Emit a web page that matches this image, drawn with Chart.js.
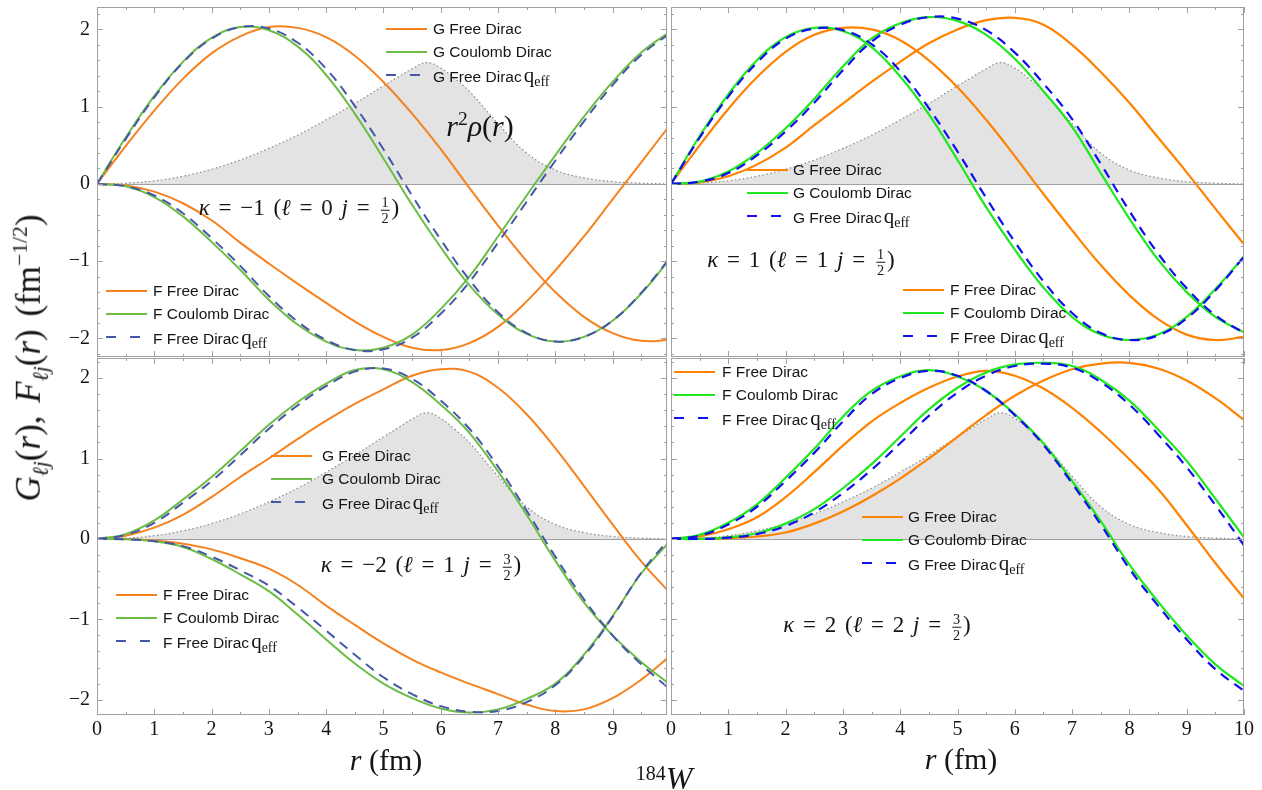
<!DOCTYPE html>
<html>
<head>
<meta charset="utf-8">
<script src="https://cdn.jsdelivr.net/npm/chart.js@4.4.0/dist/chart.umd.min.js"></script>
<style>
  html, body { margin: 0; padding: 0; background: #fff; }
  #wrap { position: relative; width: 1262px; height: 790px; overflow: hidden; background: #fff; }
  canvas { position: absolute; }
  .math { position: absolute; font-family: 'Liberation Serif', 'DejaVu Serif', serif; white-space: nowrap; color: #151515; transform: translate(-50%, -50%); line-height: 1; }
  .leg { position: absolute; font-family: 'Liberation Sans', Arial, sans-serif; font-size: 15.5px; white-space: nowrap; color: #151515; line-height: 20px; }
  .q { font-family: 'Liberation Serif', serif; font-size: 21px; margin-left: 2px; }
  .q sub { font-size: 14px; vertical-align: -0.25em; line-height: 0; }
  .frac { display: inline-flex; flex-direction: column; vertical-align: middle; font-size: 0.62em; line-height: 1; text-align: center; margin: 0 2px; }
  .frac span:first-child { border-bottom: 1px solid #151515; padding: 0 1px 1px; }
  .kap { word-spacing: 3px; }
</style>
</head>
<body>
<div id="wrap">
  <canvas id="cTL" width="668" height="357" style="left:0;top:0"></canvas>
  <canvas id="cTR" width="597" height="357" style="left:665px;top:0"></canvas>
  <canvas id="cBL" width="668" height="433" style="left:0;top:357px"></canvas>
  <canvas id="cBR" width="597" height="433" style="left:665px;top:357px"></canvas>
</div>
<script>
'use strict';

// radius grid (fm) shared by all curves
const rVals = [0, 0.5, 1, 1.5, 2, 2.5, 3, 3.5, 4, 4.5, 5, 5.5, 6, 6.5, 7, 7.5, 8, 8.5, 9, 9.5, 10];

// kappa = -1
const tlGFree = [0, 0.49, 0.95, 1.36, 1.69, 1.91, 2.03, 2.02, 1.90, 1.66, 1.32, 0.91, 0.45, -0.05, -0.54, -1.0, -1.40, -1.72, -1.93, -2.03, -2.02];
const tlGCoul = [0, 0.6, 1.14, 1.58, 1.89, 2.03, 1.99, 1.78, 1.41, 0.91, 0.33, -0.27, -0.82, -1.31, -1.69, -1.94, -2.04, -1.98, -1.77, -1.42, -0.97];
const tlGEff = [0, 0.58, 1.12, 1.57, 1.88, 2.03, 2.01, 1.83, 1.49, 1.01, 0.45, -0.15, -0.72, -1.24, -1.66, -1.93, -2.04, -1.98, -1.77, -1.41, -0.96];
const tlFFree = [0, -0.02, -0.1, -0.25, -0.47, -0.76, -1.03, -1.29, -1.54, -1.78, -1.98, -2.12, -2.15, -2.06, -1.85, -1.52, -1.12, -0.68, -0.2, 0.28, 0.76];
const tlFCoul = [0, -0.03, -0.17, -0.42, -0.75, -1.11, -1.5, -1.82, -2.04, -2.15, -2.12, -1.95, -1.62, -1.2, -0.68, -0.15, 0.37, 0.87, 1.32, 1.7, 1.97];
const tlFEff = [0, -0.03, -0.15, -0.38, -0.7, -1.06, -1.45, -1.78, -2.02, -2.15, -2.14, -1.99, -1.68, -1.27, -0.76, -0.23, 0.3, 0.81, 1.28, 1.67, 1.95];

// kappa = 1
const trGFree = [0, 0.02, 0.1, 0.25, 0.47, 0.76, 1.04, 1.32, 1.58, 1.82, 2.0, 2.12, 2.15, 2.06, 1.8, 1.45, 1.05, 0.6, 0.15, -0.32, -0.78];
const trGCoul = [0, 0.03, 0.16, 0.4, 0.72, 1.1, 1.52, 1.88, 2.08, 2.16, 2.11, 1.93, 1.62, 1.2, 0.74, 0.14, -0.45, -0.98, -1.4, -1.72, -1.92];
const trGEff = [0, 0.03, 0.14, 0.37, 0.68, 1.05, 1.47, 1.84, 2.06, 2.16, 2.14, 1.99, 1.7, 1.3, 0.84, 0.26, -0.35, -0.9, -1.35, -1.7, -1.93];
const trFFree = [0, 0.5, 0.97, 1.38, 1.71, 1.93, 2.02, 2.0, 1.86, 1.6, 1.25, 0.83, 0.36, -0.13, -0.6, -1.05, -1.44, -1.75, -1.95, -2.02, -1.98];
const trFCoul = [0, 0.62, 1.16, 1.6, 1.9, 2.02, 1.98, 1.77, 1.39, 0.9, 0.31, -0.3, -0.85, -1.34, -1.72, -1.95, -2.02, -1.95, -1.72, -1.36, -0.94];
const trFEff = [0, 0.6, 1.13, 1.57, 1.88, 2.01, 1.99, 1.81, 1.46, 0.98, 0.42, -0.18, -0.75, -1.26, -1.67, -1.93, -2.02, -1.96, -1.74, -1.38, -0.94];

// kappa = -2
const blGFree = [0, 0.04, 0.14, 0.3, 0.52, 0.77, 1.0, 1.24, 1.47, 1.68, 1.86, 2.03, 2.11, 2.08, 1.88, 1.55, 1.13, 0.66, 0.18, -0.28, -0.67];
const blGCoul = [0, 0.06, 0.23, 0.49, 0.77, 1.09, 1.42, 1.7, 1.93, 2.1, 2.11, 1.95, 1.67, 1.32, 0.84, 0.3, -0.27, -0.79, -1.2, -1.53, -1.81];
const blGEff = [0, 0.05, 0.2, 0.45, 0.72, 1.04, 1.37, 1.66, 1.9, 2.08, 2.12, 1.99, 1.72, 1.37, 0.9, 0.35, -0.22, -0.75, -1.2, -1.56, -1.87];
const blFFree = [0, 0, -0.02, -0.06, -0.13, -0.24, -0.37, -0.57, -0.83, -1.07, -1.3, -1.5, -1.66, -1.8, -1.93, -2.06, -2.14, -2.12, -1.98, -1.75, -1.46];
const blFCoul = [0, -0.005, -0.03, -0.1, -0.25, -0.44, -0.65, -0.94, -1.25, -1.55, -1.8, -1.98, -2.11, -2.16, -2.12, -1.99, -1.8, -1.44, -0.96, -0.43, -0.03];
const blFEff = [0, -0.005, -0.03, -0.09, -0.22, -0.39, -0.58, -0.85, -1.14, -1.44, -1.72, -1.93, -2.08, -2.15, -2.14, -2.03, -1.82, -1.46, -0.97, -0.42, 0.01];

// kappa = 2
const brGFree = [0, 0, 0.01, 0.03, 0.08, 0.19, 0.34, 0.53, 0.75, 1.0, 1.27, 1.54, 1.78, 1.97, 2.11, 2.18, 2.19, 2.12, 1.97, 1.75, 1.48];
const brGCoul = [0, 0, 0.02, 0.07, 0.19, 0.37, 0.63, 0.93, 1.27, 1.61, 1.88, 2.07, 2.17, 2.19, 2.15, 1.98, 1.72, 1.36, 0.97, 0.5, 0.02];
const brGEff = [0, 0, 0.015, 0.06, 0.16, 0.33, 0.57, 0.86, 1.19, 1.53, 1.82, 2.03, 2.15, 2.18, 2.13, 1.95, 1.67, 1.3, 0.89, 0.42, -0.08];
const brFFree = [0, 0.03, 0.12, 0.27, 0.52, 0.83, 1.16, 1.46, 1.69, 1.88, 2.02, 2.09, 2.03, 1.87, 1.63, 1.33, 0.99, 0.62, 0.17, -0.3, -0.74];
const brFCoul = [0, 0.05, 0.2, 0.43, 0.76, 1.12, 1.52, 1.84, 2.02, 2.1, 2.02, 1.84, 1.55, 1.19, 0.72, 0.22, -0.32, -0.78, -1.2, -1.56, -1.83];
const brFEff = [0, 0.04, 0.18, 0.4, 0.72, 1.07, 1.46, 1.8, 2.0, 2.09, 2.03, 1.84, 1.54, 1.17, 0.69, 0.18, -0.37, -0.83, -1.25, -1.62, -1.89];

// nuclear density r^2 rho(r), same in all panels
const rhoR = [0, 0.5, 1, 1.5, 2, 2.5, 3, 3.5, 4, 4.5, 5, 5.25, 5.5, 5.75, 6, 6.25, 6.5, 7, 7.5, 8, 8.5, 9, 9.5, 10];
const rhoVal = [0, 0.01, 0.04, 0.1, 0.19, 0.31, 0.46, 0.63, 0.83, 1.04, 1.27, 1.38, 1.49, 1.57, 1.5, 1.36, 1.2, 0.78, 0.4, 0.18, 0.08, 0.03, 0.01, 0];

const xTickVals = [0, 1, 2, 3, 4, 5, 6, 7, 8, 9, 10];
const yTickVals = [-2, -1, 0, 1, 2];

const leftCol = { free: '#f5821f', coul: '#6cbd45', eff: '#4757a8' };
const rightCol = { free: '#ff8200', coul: '#1ee81e', eff: '#1010ee' };

function pts(xs, ys) {
  return ys.map((v, i) => ({ x: xs[i], y: v }));
}

function curve(vals, color, kind, width) {
  return {
    data: pts(rVals, vals),
    borderColor: color,
    borderWidth: width,
    borderDash: kind === 'eff' ? [10, 7] : [],
    fill: false,
    order: kind === 'free' ? 3 : (kind === 'coul' ? 2 : 1)
  };
}

function density() {
  return {
    data: pts(rhoR, rhoVal),
    borderColor: '#8c8c8c',
    borderWidth: 1.2,
    borderDash: [1.5, 2.5],
    backgroundColor: 'rgba(224,224,224,0.9)',
    fill: 'origin',
    order: 10
  };
}

const frameTicks = {
  id: 'frameTicks',
  beforeDatasetsDraw(chart) {
    const { ctx, chartArea: a, scales: { y } } = chart;
    const y0 = Math.round(y.getPixelForValue(0)) + 0.5;
    ctx.save();
    ctx.strokeStyle = '#a0a0a0';
    ctx.lineWidth = 1;
    ctx.beginPath();
    ctx.moveTo(a.left, y0);
    ctx.lineTo(a.right, y0);
    ctx.stroke();
    ctx.restore();
  },
  afterDraw(chart) {
    const { ctx, chartArea: a, scales: { x, y } } = chart;
    ctx.save();
    ctx.strokeStyle = '#a0a0a0';
    ctx.lineWidth = 1;
    ctx.strokeRect(Math.round(a.left) + 0.5, Math.round(a.top) + 0.5, Math.round(a.right - a.left) - 1, Math.round(a.bottom - a.top) - 1);
    ctx.beginPath();
    for (let v = 0; v <= x.max + 1e-9; v += 0.5) {
      const px = Math.round(x.getPixelForValue(v)) + 0.5;
      const len = Math.abs(v - Math.round(v)) < 1e-9 ? 6 : 3;
      ctx.moveTo(px, a.bottom); ctx.lineTo(px, a.bottom - len);
      ctx.moveTo(px, a.top); ctx.lineTo(px, a.top + len);
    }
    for (let k = Math.ceil(y.min * 5); k <= Math.floor(y.max * 5); k++) {
      const py = Math.round(y.getPixelForValue(k / 5)) + 0.5;
      const len = k % 5 === 0 ? 6 : 3;
      ctx.moveTo(a.left, py); ctx.lineTo(a.left + len, py);
      ctx.moveTo(a.right, py); ctx.lineTo(a.right - len, py);
    }
    ctx.stroke();
    ctx.restore();
  }
};

function minusLabel(v) {
  return v < 0 ? '\u2212' + Math.abs(v) : String(v);
}

function makePanel(id, p) {
  const tickFont = { family: "'Liberation Serif', 'DejaVu Serif', serif", size: 20 };
  const xScale = {
    type: 'linear', min: 0, max: p.xMax, display: p.showX,
    grid: { display: false, drawTicks: false }, border: { display: false },
    afterBuildTicks: s => { s.ticks = xTickVals.filter(v => v <= s.max).map(v => ({ value: v })); },
    ticks: { font: tickFont, color: '#151515', padding: 3, maxRotation: 0, autoSkip: false, callback: minusLabel }
  };
  if (p.showX) {
    xScale.afterFit = s => { s.height = 75; s.paddingLeft = 0; s.paddingRight = 0; };
  }
  const yScale = {
    type: 'linear', min: p.yMin, max: p.yMax, display: p.showY,
    grid: { display: false, drawTicks: false }, border: { display: false },
    afterBuildTicks: s => { s.ticks = yTickVals.map(v => ({ value: v })); },
    ticks: { font: tickFont, color: '#151515', padding: 7, autoSkip: false, callback: minusLabel }
  };
  if (p.showY) {
    yScale.afterFit = s => { s.width = 97; s.paddingTop = 0; s.paddingBottom = 0; };
  }
  return new Chart(document.getElementById(id), {
    type: 'line',
    data: { datasets: p.datasets },
    options: {
      responsive: false,
      animation: false,
      layout: { padding: p.padding },
      plugins: { legend: { display: false }, tooltip: { enabled: false } },
      elements: { point: { radius: 0 }, line: { tension: 0.4 } },
      scales: { x: xScale, y: yScale }
    },
    plugins: [frameTicks]
  });
}

const L = leftCol, R = rightCol;

makePanel('cTL', {
  xMax: 9.95, yMin: -2.24, yMax: 2.29, showX: false, showY: true,
  padding: { top: 7, right: 1, left: 0, bottom: 0 },
  datasets: [density(),
    curve(tlGFree, L.free, 'free', 2), curve(tlGCoul, L.coul, 'coul', 2), curve(tlGEff, L.eff, 'eff', 2),
    curve(tlFFree, L.free, 'free', 2), curve(tlFCoul, L.coul, 'coul', 2), curve(tlFEff, L.eff, 'eff', 2)]
});
makePanel('cTR', {
  xMax: 10, yMin: -2.24, yMax: 2.29, showX: false, showY: false,
  padding: { top: 7, right: 18, left: 6, bottom: 0 },
  datasets: [density(),
    curve(trGFree, R.free, 'free', 2.2), curve(trGCoul, R.coul, 'coul', 2.2), curve(trGEff, R.eff, 'eff', 2.2),
    curve(trFFree, R.free, 'free', 2.2), curve(trFCoul, R.coul, 'coul', 2.2), curve(trFEff, R.eff, 'eff', 2.2)]
});
makePanel('cBL', {
  xMax: 9.95, yMin: -2.19, yMax: 2.25, showX: true, showY: true,
  padding: { top: 1, right: 1, left: 0, bottom: 0 },
  datasets: [density(),
    curve(blGFree, L.free, 'free', 2), curve(blGCoul, L.coul, 'coul', 2), curve(blGEff, L.eff, 'eff', 2),
    curve(blFFree, L.free, 'free', 2), curve(blFCoul, L.coul, 'coul', 2), curve(blFEff, L.eff, 'eff', 2)]
});
makePanel('cBR', {
  xMax: 10, yMin: -2.19, yMax: 2.25, showX: true, showY: false,
  padding: { top: 1, right: 18, left: 6, bottom: 0 },
  datasets: [density(),
    curve(brGFree, R.free, 'free', 2.2), curve(brGCoul, R.coul, 'coul', 2.2), curve(brGEff, R.eff, 'eff', 2.2),
    curve(brFFree, R.free, 'free', 2.2), curve(brFCoul, R.coul, 'coul', 2.2), curve(brFEff, R.eff, 'eff', 2.2)]
});

// text overlays
const wrap = document.getElementById('wrap');

function addMath(html, cx, cy, size, extraClass) {
  const d = document.createElement('div');
  d.className = 'math' + (extraClass ? ' ' + extraClass : '');
  d.style.left = cx + 'px';
  d.style.top = cy + 'px';
  d.style.fontSize = size + 'px';
  d.innerHTML = html;
  wrap.appendChild(d);
  return d;
}

function addLegend(letter, x0, tx, y0, cols) {
  const names = [letter + ' Free Dirac', letter + ' Coulomb Dirac', letter + ' Free Dirac'];
  const kinds = ['free', 'coul', 'eff'];
  names.forEach((name, i) => {
    const y = y0 + i * 23;
    const svg = document.createElementNS('http://www.w3.org/2000/svg', 'svg');
    svg.setAttribute('width', 41);
    svg.setAttribute('height', 6);
    svg.style.position = 'absolute';
    svg.style.left = x0 + 'px';
    svg.style.top = (y - 3) + 'px';
    const ln = document.createElementNS('http://www.w3.org/2000/svg', 'line');
    ln.setAttribute('x1', 0); ln.setAttribute('x2', 41);
    ln.setAttribute('y1', 3); ln.setAttribute('y2', 3);
    ln.setAttribute('stroke', cols[kinds[i]]);
    ln.setAttribute('stroke-width', 2.2);
    if (kinds[i] === 'eff') ln.setAttribute('stroke-dasharray', '10 14');
    svg.appendChild(ln);
    wrap.appendChild(svg);
    const t = document.createElement('div');
    t.className = 'leg';
    t.style.left = tx + 'px';
    t.style.top = (y - 10) + 'px';
    t.innerHTML = name + (i === 2 ? '<span class="q">q<sub>eff</sub></span>' : '');
    wrap.appendChild(t);
  });
}

addLegend('G', 386, 433, 29, L);
addLegend('F', 106, 153, 291, L);
addLegend('G', 747, 793, 170, R);
addLegend('F', 903, 950, 290, R);
addLegend('G', 271, 322, 456, L);
addLegend('F', 116, 163, 595, L);
addLegend('F', 674, 722, 372, R);
addLegend('G', 862, 908, 517, R);

const half = '<span class="frac"><span>1</span><span>2</span></span>';
const threeHalf = '<span class="frac"><span>3</span><span>2</span></span>';
addMath('<i>\u03ba</i> = \u22121 (<i>\u2113</i> = 0 <i>j</i> = ' + half + ')', 299, 210, 23, 'kap');
addMath('<i>\u03ba</i> = 1 (<i>\u2113</i> = 1 <i>j</i> = ' + half + ')', 801, 262, 23, 'kap');
addMath('<i>\u03ba</i> = \u22122 (<i>\u2113</i> = 1 <i>j</i> = ' + threeHalf + ')', 421, 567, 23, 'kap');
addMath('<i>\u03ba</i> = 2 (<i>\u2113</i> = 2 <i>j</i> = ' + threeHalf + ')', 877, 627, 23, 'kap');

addMath('<i>r</i><sup style="font-size:0.65em">2</sup><i>\u03c1</i>(<i>r</i>)', 480, 125, 30);
addMath('<i>r</i> (fm)', 386, 760, 30);
addMath('<i>r</i> (fm)', 961, 759, 30);
addMath('<sup style="font-size:20px;vertical-align:0.45em">184</sup><i>W</i>', 664, 778, 32);

const yt = addMath('<i>G</i><sub style="font-size:0.62em"><i>\u2113j</i></sub>(<i>r</i>), <i>F</i><sub style="font-size:0.62em"><i>\u2113j</i></sub>(<i>r</i>) (fm<sup style="font-size:0.62em">\u22121/2</sup>)', 31, 358, 35);
yt.style.wordSpacing = '4px';
yt.style.transform = 'translate(-50%, -50%) rotate(-90deg)';
</script>
</body>
</html>
